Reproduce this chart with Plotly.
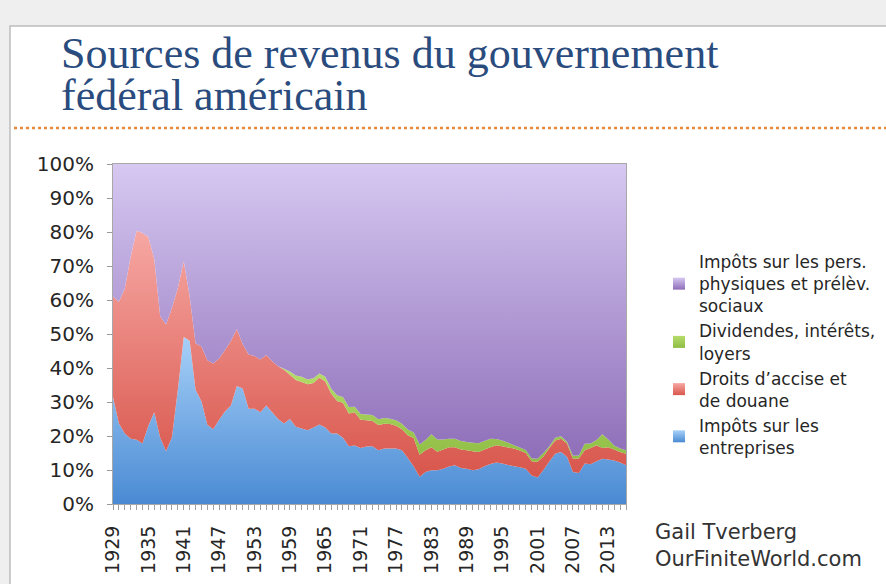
import plotly.graph_objects as go

years = list(range(1929, 2017))

corporate = [31.5, 23.7, 20.7, 19.2, 18.9, 17.8, 23.0, 27.0, 19.5, 15.5,
             19.6, 33.6, 49.1, 48.0, 33.6, 30.2, 23.3, 22.0, 24.8, 27.2,
             29.0, 34.7, 34.0, 28.0, 28.0, 27.0, 29.0, 27.0, 25.0, 23.7,
             25.0, 22.7, 22.2, 21.7, 22.5, 23.4, 22.5, 20.7, 20.7, 19.5,
             17.0, 17.2, 16.5, 16.9, 17.0, 15.8, 16.3, 16.3, 16.3, 15.8,
             13.5, 11.0, 8.0, 9.4, 9.9, 9.9, 10.4, 11.0, 11.4, 10.6,
             10.4, 9.9, 10.2, 11.1, 11.8, 12.2, 11.9, 11.5, 11.1, 10.8,
             10.4, 8.4, 7.8, 10.0, 12.5, 14.8, 15.3, 13.8, 9.4, 9.1,
             11.9, 11.7, 12.6, 13.3, 13.1, 12.8, 12.2, 11.4]

excise = [29.5, 35.8, 42.7, 53.6, 61.5, 61.9, 55.5, 45.0, 35.8, 37.3,
          38.1, 29.9, 22.4, 13.0, 13.7, 16.1, 19.0, 19.3, 18.0, 18.1,
          19.0, 16.8, 13.0, 16.0, 15.5, 15.5, 14.8, 15.0, 15.5, 15.8,
          13.0, 13.8, 13.7, 13.5, 13.1, 13.8, 13.5, 11.8, 9.6, 10.3,
          9.6, 9.8, 8.3, 7.7, 7.4, 7.4, 7.3, 7.2, 6.7, 6.2,
          6.7, 8.4, 6.5, 6.4, 6.8, 5.5, 5.6, 5.7, 5.3, 5.4,
          5.4, 5.6, 5.1, 4.9, 4.9, 5.1, 5.1, 5.1, 5.2, 4.9,
          4.6, 4.2, 4.6, 4.0, 4.0, 3.9, 3.9, 4.0, 4.0, 4.3,
          3.9, 4.8, 4.7, 3.2, 3.6, 3.2, 3.1, 3.4]

dividends = [0.0, 0.0, 0.0, 0.0, 0.0, 0.0, 0.0, 0.0, 0.0, 0.0,
             0.0, 0.0, 0.0, 0.0, 0.0, 0.0, 0.0, 0.0, 0.0, 0.0,
             0.0, 0.0, 0.0, 0.0, 0.0, 0.0, 0.0, 0.0, 0.0, 0.3,
             1.0, 1.3, 1.5, 1.4, 1.4, 1.2, 1.4, 1.5, 1.7, 1.7,
             1.9, 1.6, 1.7, 1.7, 1.8, 1.7, 1.7, 1.6, 1.6, 1.6,
             1.7, 1.6, 3.0, 3.0, 3.8, 3.6, 3.0, 2.5, 2.5, 2.5,
             2.4, 2.5, 2.6, 2.5, 2.5, 1.8, 1.7, 1.4, 1.0, 0.9,
             0.9, 0.8, 0.9, 1.0, 0.5, 0.8, 0.7, 0.5, 0.8, 0.9,
             1.9, 1.3, 1.5, 4.0, 2.3, 1.2, 1.0, 1.0]

personal = [39.0, 40.5, 36.6, 27.2, 19.6, 20.3, 21.5, 28.0, 44.7, 47.2,
            42.3, 36.5, 28.5, 39.0, 52.7, 53.7, 57.7, 58.7, 57.2, 54.7,
            52.0, 48.5, 53.0, 56.0, 56.5, 57.5, 56.2, 58.0, 59.5, 60.2,
            61.0, 62.2, 62.6, 63.4, 63.0, 61.6, 62.6, 66.0, 68.0, 68.5,
            71.5, 71.4, 73.5, 73.7, 73.8, 75.1, 74.7, 74.9, 75.4, 76.4,
            78.1, 79.0, 82.5, 81.2, 79.5, 81.0, 81.0, 80.8, 80.8, 81.5,
            81.8, 82.0, 82.1, 81.5, 80.8, 80.9, 81.3, 82.0, 82.7, 83.4,
            84.1, 86.6, 86.7, 85.0, 83.0, 80.5, 80.1, 81.7, 85.8, 85.7,
            82.3, 82.2, 81.2, 79.5, 81.0, 82.8, 83.7, 84.2]

series_names = [
    "Impôts sur les<br>entreprises",
    "Droits d’accise et<br>de douane",
    "Dividendes, intérêts,<br>loyers",
    "Impôts sur les pers.<br>physiques et prélèv.<br>sociaux",
]
y_ticks = [0, 10, 20, 30, 40, 50, 60, 70, 80, 90, 100]
y_tick_text = [f"{v}%" for v in y_ticks]

# (bottom colour, top colour, gradient start, gradient stop)
styles = [
    ("#4a8ad3", "#a8d1f9", 0, 50),
    ("#d8564c", "#f7a8a4", 8, 81),
    ("#8fbd45", "#b5dc6a", 13, 40),
    ("#8d6db8", "#d6c8f1", 12, 100),
]

fig = go.Figure()
for name, vals, (c0, c1, s0, s1) in zip(series_names,
                                        [corporate, excise, dividends, personal],
                                        styles):
    fig.add_trace(go.Scatter(
        x=years, y=vals, stackgroup="one", mode="none", name=name,
        showlegend=False, legendgroup=name,
        fillgradient=dict(type="vertical", start=s0, stop=s1,
                          colorscale=[[0, c0], [1, c1]]),
        hovertemplate="%{x}: %{y:.1f}%<extra></extra>",
    ))
    # legend swatch
    fig.add_trace(go.Scatter(
        x=[None], y=[None], mode="markers", name=name, legendgroup=name,
        marker=dict(symbol="square", size=13, color=c1,
                    gradient=dict(type="vertical", color=c0),
                    line=dict(width=0)),
    ))

W, H = 886, 584
L, R, T, B = 113, 626, 164, 504
pw, ph = R - L, B - T


def px(x):
    return (x - L) / pw


def py(y):
    return (B - y) / ph


fig.update_layout(
    width=W, height=H,
    margin=dict(l=L, r=W - R, t=T, b=H - B, pad=0, autoexpand=False),
    paper_bgcolor="#efefef",
    plot_bgcolor="#ffffff",
    font=dict(family="DejaVu Sans", color="#262626"),
    showlegend=True,
    legend=dict(
        x=px(659), y=py(244), xanchor="left", yanchor="top",
        traceorder="reversed", font=dict(size=17, color="#262626"),
        bgcolor="rgba(0,0,0,0)", borderwidth=0, tracegroupgap=1,
        itemsizing="constant",
    ),
    xaxis=dict(
        range=[1929, 2016], tickmode="linear", tick0=1929, dtick=6,
        tickangle=-90, tickfont=dict(size=19, color="#262626"),
        ticks="outside", ticklen=5, tickcolor="#9a9a9a",
        showline=True, linecolor="#a8a8a8", linewidth=1, mirror=True,
        showgrid=False, zeroline=False, ticklabelstandoff=8, automargin=False,
        minor=dict(ticks="outside", ticklen=5, dtick=1, tick0=1929,
                   tickcolor="#a0a0a0", showgrid=False),
    ),
    yaxis=dict(
        range=[0, 100], tickmode="array", tickvals=y_ticks, ticktext=y_tick_text,
        tickfont=dict(size=20, color="#262626"),
        ticks="outside", ticklen=5, tickcolor="#9a9a9a",
        showline=True, linecolor="#a8a8a8", linewidth=1, mirror=True,
        showgrid=False, zeroline=False, ticklabelstandoff=9, automargin=False,
    ),
    shapes=[
        dict(type="rect", xref="paper", yref="paper", layer="below",
             x0=px(10), x1=px(900), y0=py(600), y1=py(26),
             fillcolor="#ffffff", line=dict(color="#bdbdbd", width=1.5)),
        dict(type="line", xref="paper", yref="paper",
             x0=px(14), x1=px(890), y0=py(128), y1=py(128),
             line=dict(color="#e8893a", width=2.5, dash="dot")),
    ],
    annotations=[
        dict(text="Sources de revenus du gouvernement", xref="paper", yref="paper",
             x=px(59), y=py(53), xanchor="left", yanchor="middle", showarrow=False,
             font=dict(family="Liberation Serif", size=44, color="#2a4b7d")),
        dict(text="fédéral américain", xref="paper", yref="paper",
             x=px(59), y=py(95), xanchor="left", yanchor="middle", showarrow=False,
             font=dict(family="Liberation Serif", size=44, color="#2a4b7d")),
        dict(text="Gail Tverberg<br>OurFiniteWorld.com", xref="paper", yref="paper",
             x=px(653), y=py(545), xanchor="left", yanchor="middle", showarrow=False,
             align="left", font=dict(family="DejaVu Sans", size=21, color="#333333")),
    ],
)

fig.write_html("out.html", config={"displayModeBar": False},
               post_script="document.body.style.margin='0px';")
